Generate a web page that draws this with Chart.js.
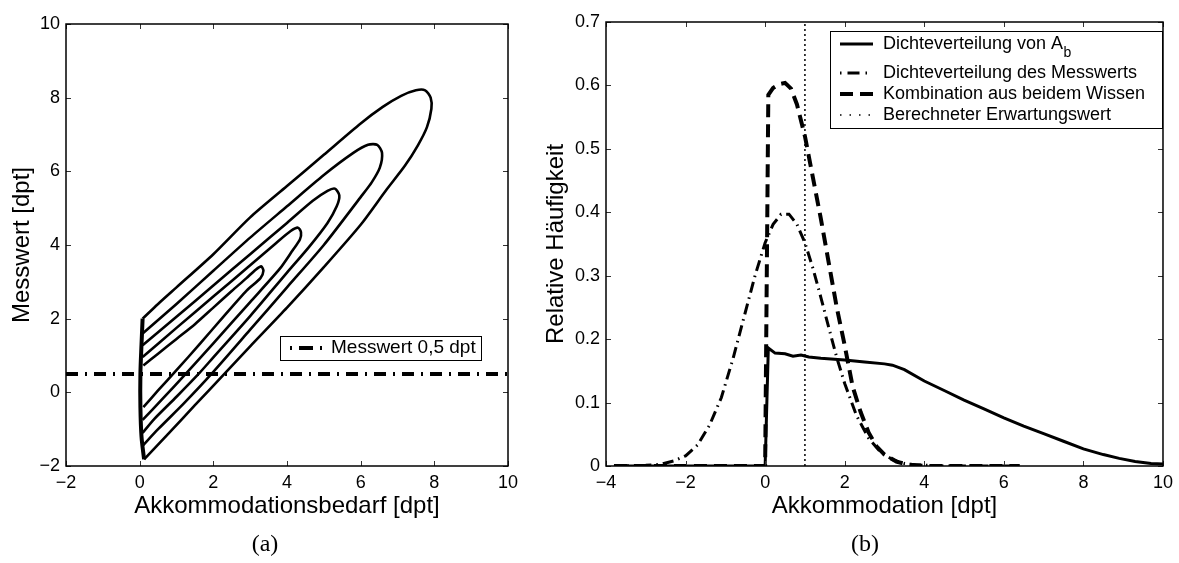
<!DOCTYPE html>
<html><head><meta charset="utf-8">
<script src="https://cdn.jsdelivr.net/npm/chart.js@4.4.0/dist/chart.umd.min.js"></script>
<style>
html,body{margin:0;padding:0;background:#fff;}
#wrap{position:relative;width:1179px;height:563px;overflow:hidden;background:#fff;}
#c1{position:absolute;left:0;top:0;}
#c2{position:absolute;left:540px;top:0;}
.cap{position:absolute;top:529px;width:60px;text-align:center;font-family:"Liberation Serif","Times New Roman",serif;font-size:24px;color:#000;line-height:28px;}
</style></head><body>
<div id="wrap">
<canvas id="c1" width="540" height="563"></canvas>
<canvas id="c2" width="639" height="563"></canvas>
<div class="cap" style="left:235px">(a)</div>
<div class="cap" style="left:835px">(b)</div>
</div>
<script>
// ---------- Plot (a): contour lines (open curves ending on the A_b = 0 wall) ----------
const c1X = [0.08,0.5,1.0,2.0,3.0,4.0,5.0,6.0,6.6,7.1,7.5,7.75,7.9,7.92,7.8,7.55,7.2,6.7,6.0,5.0,4.0,3.0,2.3,1.5,0.8,0.12];
const c1Y = [2.0,2.4,2.85,3.75,4.75,5.6,6.45,7.3,7.75,8.05,8.2,8.2,8.0,7.7,7.2,6.7,6.15,5.5,4.55,3.4,2.3,1.25,0.5,-0.35,-1.1,-1.82];
const c2X = [0.08,1.0,2.0,3.0,4.0,5.0,5.8,6.2,6.45,6.58,6.52,6.3,6.0,5.0,4.0,3.0,1.95,1.2,0.5,0.08];
const c2Y = [1.6,2.4,3.3,4.2,5.05,5.9,6.5,6.72,6.72,6.5,6.1,5.7,5.3,4.0,2.85,1.7,0.5,-0.3,-1.0,-1.45];
const c3X = [0.08,1.0,2.0,3.0,4.0,4.7,5.1,5.3,5.42,5.35,5.1,4.6,4.0,3.0,2.0,1.6,1.0,0.4,0.08];
const c3Y = [1.28,2.05,2.9,3.75,4.6,5.2,5.47,5.53,5.35,5.05,4.6,3.95,3.25,2.07,0.95,0.5,-0.12,-0.72,-1.1];
const c4X = [0.08,1.0,2.0,3.0,3.7,4.1,4.3,4.38,4.35,4.15,3.8,3.0,2.0,1.25,0.6,0.08];
const c4Y = [0.96,1.75,2.6,3.45,4.05,4.38,4.47,4.35,4.15,3.85,3.35,2.45,1.33,0.5,-0.2,-0.75];
const c5X = [0.1,0.5,1.0,1.5,2.0,2.5,2.9,3.15,3.3,3.36,3.28,2.91,2.27,1.64,1.0,0.5,0.1];
const c5Y = [0.73,1.05,1.45,1.85,2.3,2.75,3.1,3.33,3.42,3.3,3.1,2.77,2.05,1.32,0.6,0.05,-0.4];
const wallX = [0.12,0.05,0.02,0.02,0.05,0.08];
const wallY = [-1.82,-1.2,-0.4,0.5,1.3,2.0];
const messX = [-2, 10];
const messY = [0.5, 0.5];
const xTicksA = [-2,0,2,4,6,8,10];
const xTickLabelsA = ['−2','0','2','4','6','8','10'];
const yTicksA = [-2,0,2,4,6,8,10];
const yTickLabelsA = ['−2','0','2','4','6','8','10'];

// ---------- Plot (b): densities ----------
const abX = [-3.8,-2,0.0,0.08,0.25,0.5,0.7,0.9,1.1,1.4,2.0,2.5,3.0,3.2,3.5,4.0,4.5,5.0,5.5,6.0,6.5,7.0,7.5,8.0,8.5,8.9,9.3,9.7,10.0];
const abY = [0,0,0,0.186,0.178,0.177,0.173,0.175,0.172,0.170,0.167,0.164,0.161,0.159,0.152,0.134,0.119,0.104,0.090,0.076,0.063,0.051,0.039,0.027,0.018,0.012,0.007,0.004,0.003];
const measX = [-3.7,-3.0,-2.6,-2.3,-2.0,-1.7,-1.4,-1.1,-0.8,-0.5,-0.25,0.0,0.2,0.4,0.6,0.8,1.0,1.2,1.4,1.6,1.8,2.0,2.3,2.6,2.9,3.2,3.5,3.8,4.5,6.4];
const measY = [0.0,0.001,0.003,0.008,0.016,0.033,0.064,0.108,0.171,0.242,0.301,0.352,0.381,0.397,0.397,0.381,0.352,0.312,0.266,0.218,0.171,0.130,0.079,0.044,0.022,0.010,0.004,0.0017,0.0,0.0];
const combX = [-3.8,-1,0.0,0.08,0.2,0.35,0.5,0.65,0.8,1.0,1.2,1.4,1.6,1.8,2.0,2.2,2.4,2.6,2.8,3.0,3.3,3.6,4.0,6.4];
const combY = [0,0,0,0.585,0.596,0.602,0.604,0.595,0.570,0.52,0.455,0.39,0.32,0.25,0.19,0.125,0.085,0.053,0.031,0.018,0.007,0.002,0.0,0.0];
const erwX = [1, 1];
const erwY = [0, 0.7];
const xTicksB = [-4,-2,0,2,4,6,8,10];
const xTickLabelsB = ['−4','−2','0','2','4','6','8','10'];
const yTicksB = [0,0.1,0.2,0.3,0.4,0.5,0.6,0.7];
const yTickLabelsB = ['0','0.1','0.2','0.3','0.4','0.5','0.6','0.7'];

Chart.defaults.font.family = "'Liberation Sans', Arial, Helvetica, sans-serif";
Chart.defaults.color = '#000';
Chart.defaults.animation = false;

function pts(xs, ys){ return xs.map((x,i)=>({x:x, y:ys[i]})); }

function xScale(min, max, vals, labels, title){
  return {
    type:'linear', position:'bottom', min:min, max:max,
    grid:{display:false, drawTicks:false, tickLength:0}, border:{display:false},
    ticks:{font:{size:18}, padding:6, maxRotation:0, autoSkip:false, callback:(v,i)=>labels[i]},
    afterBuildTicks: s => { s.ticks = vals.map(v=>({value:v})); },
    afterFit: s => { s.height = 97; },
    title:{display:true, text:title, font:{size:24}, padding:{top:0,bottom:42}}
  };
}
function yScale(min, max, vals, labels, title, tp){
  return {
    type:'linear', position:'left', min:min, max:max,
    grid:{display:false, drawTicks:false, tickLength:0}, border:{display:false},
    ticks:{font:{size:18}, padding:6, autoSkip:false, callback:(v,i)=>labels[i]},
    afterBuildTicks: s => { s.ticks = vals.map(v=>({value:v})); },
    afterFit: s => { s.width = 66; },
    title:{display:true, text:title, font:{size:24}, padding:{top:tp,bottom:0}}
  };
}

const framePlugin = {
  id:'frame',
  afterDatasetsDraw(chart, args, opts){
    const ctx = chart.ctx, a = chart.chartArea, x = chart.scales.x, y = chart.scales.y;
    ctx.save();
    ctx.setLineDash([]);
    ctx.strokeStyle = '#333'; ctx.lineWidth = 1;
    const L = 5;
    ctx.beginPath();
    opts.xt.forEach(v=>{ const p = Math.round(x.getPixelForValue(v))+0.5;
      ctx.moveTo(p, a.bottom); ctx.lineTo(p, a.bottom-L); ctx.moveTo(p, a.top); ctx.lineTo(p, a.top+L); });
    opts.yt.forEach(v=>{ const p = Math.round(y.getPixelForValue(v))+0.5;
      ctx.moveTo(a.left, p); ctx.lineTo(a.left+L, p); ctx.moveTo(a.right, p); ctx.lineTo(a.right-L, p); });
    ctx.stroke();
    ctx.strokeStyle = '#000'; ctx.lineWidth = 1.5;
    ctx.strokeRect(a.left, a.top, a.right-a.left, a.bottom-a.top);
    // legend
    const lg = opts.legend;
    ctx.fillStyle = '#fff';
    ctx.fillRect(lg.x, lg.y, lg.w, lg.h);
    ctx.strokeStyle = '#000'; ctx.lineWidth = 1;
    ctx.strokeRect(lg.x+0.5, lg.y+0.5, lg.w, lg.h);
    lg.items.forEach(it=>{
      ctx.beginPath();
      ctx.setLineDash(it.dash);
      ctx.lineWidth = it.lw; ctx.lineCap = 'butt';
      ctx.strokeStyle = '#000';
      ctx.moveTo(lg.sx0, it.y); ctx.lineTo(lg.sx1, it.y);
      ctx.stroke();
      ctx.setLineDash([]);
      ctx.fillStyle = '#000';
      ctx.font = lg.fs + "px 'Liberation Sans', Arial, sans-serif";
      ctx.textBaseline = 'middle'; ctx.textAlign = 'left';
      ctx.fillText(it.text, lg.tx, it.y);
      if (it.sub){
        const w = ctx.measureText(it.text).width;
        ctx.font = Math.round(lg.fs*0.75) + "px 'Liberation Sans', Arial, sans-serif";
        ctx.fillText(it.sub, lg.tx + w + 0.5, it.y + 9);
      }
    });
    ctx.restore();
  }
};

const lineDs = (xs, ys, lw, dash, tension) => ({
  data: pts(xs, ys), showLine:true, pointRadius:0, borderColor:'#000', backgroundColor:'#000',
  borderWidth:lw, borderDash:dash, fill:false, tension:tension
});

new Chart(document.getElementById('c1'), {
  type:'scatter',
  data:{ datasets:[
    lineDs(messX, messY, 4, [12,7,2,7], 0),
    lineDs(wallX, wallY, 4, [], 0.3),
    lineDs(c1X, c1Y, 2.6, [], 0.25),
    lineDs(c2X, c2Y, 2.6, [], 0.25),
    lineDs(c3X, c3Y, 2.6, [], 0.25),
    lineDs(c4X, c4Y, 2.6, [], 0.25),
    lineDs(c5X, c5Y, 2.6, [], 0.25)
  ]},
  options:{
    responsive:false, maintainAspectRatio:false,
    layout:{padding:{left:0,right:32,top:24,bottom:0}},
    scales:{
      x: xScale(-2, 10, xTicksA, xTickLabelsA, 'Akkommodationsbedarf [dpt]'),
      y: yScale(-2, 10, yTicksA, yTickLabelsA, 'Messwert [dpt]', 8)
    },
    plugins:{ legend:{display:false}, tooltip:{enabled:false},
      frame:{ xt:xTicksA, yt:yTicksA,
        legend:{x:280, y:336, w:201, h:24, sx0:290, sx1:322, tx:331, fs:19,
          items:[{text:'Messwert 0,5 dpt', y:348, lw:4, dash:[2,7,14,7]}]}}
    }
  },
  plugins:[framePlugin]
});

new Chart(document.getElementById('c2'), {
  type:'scatter',
  data:{ datasets:[
    lineDs(abX, abY, 3, [], 0),
    lineDs(measX, measY, 3, [11,5,1.5,5], 0),
    lineDs(combX, combY, 4, [13,7], 0),
    lineDs(erwX, erwY, 1.5, [2,3], 0)
  ]},
  options:{
    responsive:false, maintainAspectRatio:false,
    layout:{padding:{left:0,right:10,top:22,bottom:0}},
    scales:{
      x: xScale(-4, 10, xTicksB, xTickLabelsB, 'Akkommodation [dpt]'),
      y: yScale(0, 0.7, yTicksB, yTickLabelsB, 'Relative Häufigkeit', 2)
    },
    plugins:{ legend:{display:false}, tooltip:{enabled:false},
      frame:{ xt:xTicksB, yt:yTicksB,
        legend:{x:290, y:31, w:332, h:97, sx0:300, sx1:333, tx:343, fs:18,
          items:[
            {text:'Dichteverteilung von A', sub:'b', y:44, lw:3, dash:[]},
            {text:'Dichteverteilung des Messwerts', y:73, lw:3, dash:[1.5,6,12,6]},
            {text:'Kombination aus beidem Wissen', y:94, lw:4, dash:[13,7]},
            {text:'Berechneter Erwartungswert', y:115, lw:1.5, dash:[1.5,8]}
          ]}}
    }
  },
  plugins:[framePlugin]
});
</script>
</body></html>
